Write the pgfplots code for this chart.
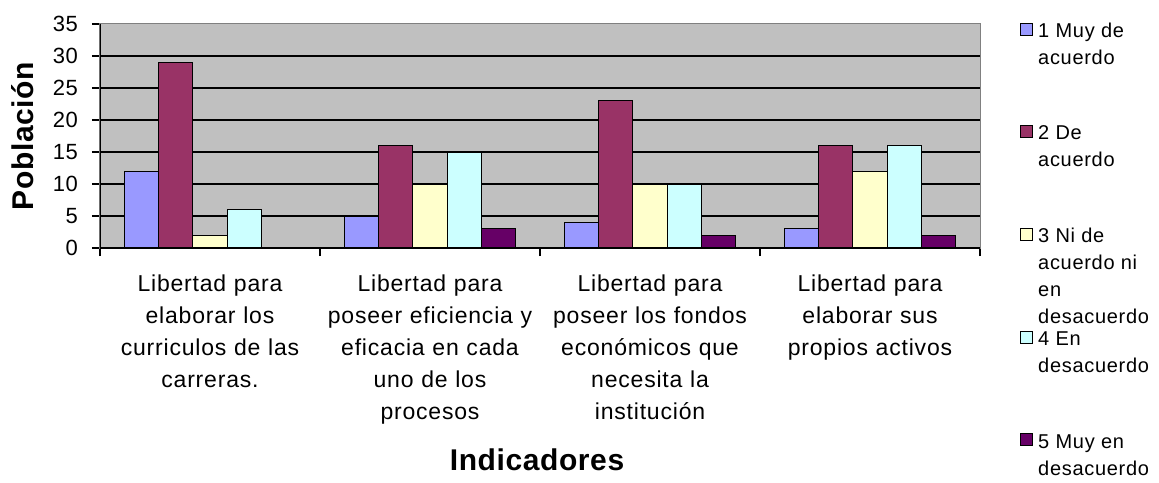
\documentclass[border=0pt]{standalone}
\usepackage{pgfplots}
\pgfplotsset{compat=1.18}
\usepackage{fontspec}
\setmainfont{Liberation Sans}
\newfontfamily\catfont[LetterSpace=3.5]{Liberation Sans}
\newfontfamily\legfont[LetterSpace=3.5]{Liberation Sans}
\newfontfamily\labfont[LetterSpace=2]{Liberation Sans}
\definecolor{cA}{HTML}{9999FF}
\definecolor{cB}{HTML}{993366}
\definecolor{cC}{HTML}{FFFFCC}
\definecolor{cD}{HTML}{CCFFFF}
\definecolor{cE}{HTML}{660066}
\definecolor{plotgray}{HTML}{C0C0C0}
\definecolor{bordergray}{HTML}{808080}
\begin{document}
\begin{tikzpicture}
\path[use as bounding box] (0,0) rectangle (1159pt,482pt);
\begin{axis}[
  at={(100pt,234pt)}, anchor=south west,
  scale only axis, width=880pt, height=224pt,
  ybar=0pt, bar width=0.156,
  xmin=-0.5, xmax=3.5, ymin=0, ymax=35,
  axis background/.style={fill=plotgray},
  axis line style={draw=bordergray, line width=1pt},
  tick align=outside, tick pos=left,
  major tick length=8pt,
  tick style={black, line width=1.2pt},
  /pgf/number format/assume math mode=true,
  ytick={0,5,...,35},
  yticklabel style={font=\labfont\fontsize{22}{26}\selectfont, inner sep=0pt, xshift=-14pt},
  extra y ticks={5,10,15,20,25,30},
  extra y tick labels={},
  extra y tick style={ymajorgrids=true, major tick length=0pt, major grid style={black, line width=1.3pt}},
  xtick={-0.5,0.5,1.5,2.5,3.5},
  xticklabels={},
  extra x ticks={0,1,2,3},
  extra x tick labels={
    {Libertad para\\elaborar los\\curriculos de las\\carreras.},
    {Libertad para\\poseer eficiencia y\\eficacia en cada\\uno de los\\procesos},
    {Libertad para\\poseer los fondos\\económicos que\\necesita la\\institución},
    {Libertad para\\elaborar sus\\propios activos}},
  extra x tick style={major tick length=0pt},
  xticklabel style={font=\catfont\fontsize{23}{31.8}\selectfont, align=center, text width=220pt, inner sep=0pt, yshift=-27pt},
  xlabel={Indicadores},
  xlabel style={font=\labfont\bfseries\fontsize{30}{36}\selectfont, at={(axis description cs:0.4966,-0.9955)}, anchor=base},
  ylabel={Población},
  ylabel style={font=\labfont\bfseries\fontsize{30}{36}\selectfont, at={(axis description cs:-0.0875,0.5)}, anchor=center},
  legend image code/.code={\draw[#1, draw=black, line width=1pt] (0pt,-12pt) rectangle (12pt,0pt);},
  legend style={at={(1.04545,1.0076)}, anchor=north west, draw=none, fill=none, inner sep=0pt,
    row sep=0pt, column sep=5pt, cells={anchor=north west},
    nodes={inner sep=0pt, text height=14pt, text depth=88pt},
    font=\legfont\fontsize{20}{27}\selectfont},
]
\addplot[fill=cA, draw=black, line width=1.2pt] coordinates {(0,12) (1,5) (2,4) (3,3)};
\addlegendentry{\parbox[t]{125pt}{\raggedright 1 Muy de\\acuerdo}}
\addplot[fill=cB, draw=black, line width=1.2pt] coordinates {(0,29) (1,16) (2,23) (3,16)};
\addlegendentry{\parbox[t]{125pt}{\raggedright 2 De\\acuerdo}}
\addplot[fill=cC, draw=black, line width=1.2pt] coordinates {(0,2) (1,10) (2,10) (3,12)};
\addlegendentry{\parbox[t]{125pt}{\raggedright 3 Ni de\\acuerdo ni\\en\\desacuerdo}}
\addplot[fill=cD, draw=black, line width=1.2pt] coordinates {(0,6) (1,15) (2,10) (3,16)};
\addlegendentry{\parbox[t]{125pt}{\raggedright 4 En\\desacuerdo}}
\addplot[fill=cE, draw=black, line width=1.2pt] coordinates {(1,3) (2,2) (3,2)};
\addlegendentry[text depth=28pt]{\parbox[t]{125pt}{\raggedright 5 Muy en\\desacuerdo}}
\draw[black, line width=1.3pt] (rel axis cs:0,1) -- (rel axis cs:0,0) -- (rel axis cs:1,0);
\end{axis}
\end{tikzpicture}
\end{document}
